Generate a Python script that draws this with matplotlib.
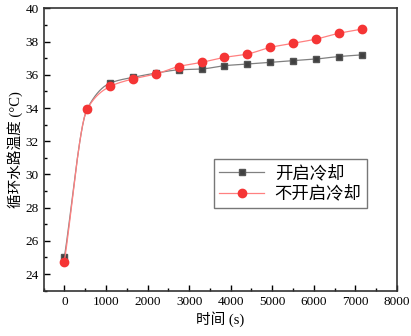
import numpy as np
import matplotlib
matplotlib.use('Agg')
from matplotlib import pyplot as plt
from matplotlib.ticker import MultipleLocator

plt.rcParams['font.family'] = ['Liberation Serif', 'Noto Sans CJK SC']

# 数据
time_s = [0, 550, 1100, 1650, 2200, 2750, 3300, 3850, 4400, 4950, 5500, 6050, 6600, 7150]
temp_cool = [25.0, 33.95, 35.5, 35.85, 36.1, 36.3, 36.35, 36.55, 36.65, 36.75, 36.85, 36.95, 37.1, 37.2]
temp_nocool = [24.75, 33.95, 35.3, 35.75, 36.05, 36.5, 36.75, 37.05, 37.25, 37.65, 37.9, 38.15, 38.5, 38.75]
labels = ['开启冷却', '不开启冷却']


def pchip(x, y, n=30):
    # 单调三次插值, 只用于画平滑连线
    x = np.asarray(x, float)
    y = np.asarray(y, float)
    h = np.diff(x)
    d = np.diff(y) / h
    m = np.zeros_like(y)
    for k in range(1, len(x) - 1):
        if d[k - 1] * d[k] > 0:
            w1 = 2 * h[k] + h[k - 1]
            w2 = h[k] + 2 * h[k - 1]
            m[k] = (w1 + w2) / (w1 / d[k - 1] + w2 / d[k])
    m[0] = d[0]
    m[-1] = d[-1]
    xs, ys = [], []
    for k in range(len(x) - 1):
        t = np.linspace(0, 1, n, endpoint=False)
        h00 = 2 * t**3 - 3 * t**2 + 1
        h10 = t**3 - 2 * t**2 + t
        h01 = -2 * t**3 + 3 * t**2
        h11 = t**3 - t**2
        xs.append(x[k] + t * h[k])
        ys.append(h00 * y[k] + h10 * h[k] * m[k] + h01 * y[k + 1] + h11 * h[k] * m[k + 1])
    xs.append([x[-1]])
    ys.append([y[-1]])
    return np.concatenate(xs), np.concatenate(ys)


fig = plt.figure(figsize=(4.11, 3.36), dpi=100)
ax = fig.add_axes([0.106, 0.135, 0.860, 0.840])

xs, ys = pchip(time_s, temp_cool)
ax.plot(xs, ys, color='#808080', lw=0.9)
ax.plot(time_s, temp_cool, 's', color='#404040', ms=5, mec='#555555')
xs, ys = pchip(time_s, temp_nocool)
ax.plot(xs, ys, color='#ff8080', lw=0.9)
ax.plot(time_s, temp_nocool, 'o', color='#f53535', ms=6, mec='#f53535')

# 图例
h1, = ax.plot([], [], '-s', color='#808080', mfc='#404040', mec='#555555', ms=5, lw=0.9)
h2, = ax.plot([], [], '-o', color='#ff8080', mfc='#f53535', mec='#f53535', ms=6, lw=0.9)
ax.legend([h1, h2], labels, loc='upper left', bbox_to_anchor=(0.482, 0.467),
          borderaxespad=0, fancybox=False, edgecolor='#555555',
          handlelength=2.6, handletextpad=0.6, borderpad=0.3, labelspacing=0.15,
          prop={'family': ['Noto Sans CJK SC'], 'size': 12.5})

ax.set_xlim(-500, 8000)
ax.set_ylim(23, 40)
ax.xaxis.set_major_locator(MultipleLocator(1000))
ax.xaxis.set_minor_locator(MultipleLocator(500))
ax.yaxis.set_major_locator(MultipleLocator(2))
ax.yaxis.set_minor_locator(MultipleLocator(1))
ax.tick_params(which='both', direction='in', top=False, right=False, labelsize=9.5)
ax.tick_params(which='major', length=4, width=1)
ax.tick_params(which='minor', length=2.5, width=1)
for s in ax.spines.values():
    s.set_color('#333333')
    s.set_linewidth(1.2)

ax.set_xlabel('时间 (s)', fontsize=10.5, labelpad=3)
ax.set_ylabel('循环水路温度 (°C)', fontsize=10.5, labelpad=2)

plt.savefig('out.png', dpi=100)
